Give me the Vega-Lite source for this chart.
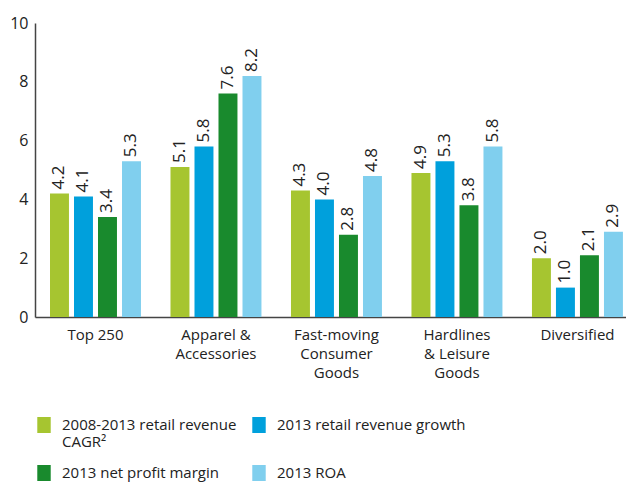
{
  "$schema": "https://vega.github.io/schema/vega-lite/v6.json",
  "autosize": {"type": "none"},
  "padding": {"left": 35, "top": 23, "right": 0, "bottom": 167},
  "width": 591,
  "height": 294,
  "background": "white",
  "config": {
    "font": "Open Sans",
    "view": {"stroke": null}
  },
  "data": {
    "values": [
      {"cat": "Top 250", "s": "2008-2013 retail revenue CAGR²", "v": 4.2},
      {"cat": "Top 250", "s": "2013 retail revenue growth", "v": 4.1},
      {"cat": "Top 250", "s": "2013 net profit margin", "v": 3.4},
      {"cat": "Top 250", "s": "2013 ROA", "v": 5.3},
      {"cat": "Apparel & Accessories", "s": "2008-2013 retail revenue CAGR²", "v": 5.1},
      {"cat": "Apparel & Accessories", "s": "2013 retail revenue growth", "v": 5.8},
      {"cat": "Apparel & Accessories", "s": "2013 net profit margin", "v": 7.6},
      {"cat": "Apparel & Accessories", "s": "2013 ROA", "v": 8.2},
      {"cat": "Fast-moving Consumer Goods", "s": "2008-2013 retail revenue CAGR²", "v": 4.3},
      {"cat": "Fast-moving Consumer Goods", "s": "2013 retail revenue growth", "v": 4.0},
      {"cat": "Fast-moving Consumer Goods", "s": "2013 net profit margin", "v": 2.8},
      {"cat": "Fast-moving Consumer Goods", "s": "2013 ROA", "v": 4.8},
      {"cat": "Hardlines & Leisure Goods", "s": "2008-2013 retail revenue CAGR²", "v": 4.9},
      {"cat": "Hardlines & Leisure Goods", "s": "2013 retail revenue growth", "v": 5.3},
      {"cat": "Hardlines & Leisure Goods", "s": "2013 net profit margin", "v": 3.8},
      {"cat": "Hardlines & Leisure Goods", "s": "2013 ROA", "v": 5.8},
      {"cat": "Diversified", "s": "2008-2013 retail revenue CAGR²", "v": 2.0},
      {"cat": "Diversified", "s": "2013 retail revenue growth", "v": 1.0},
      {"cat": "Diversified", "s": "2013 net profit margin", "v": 2.1},
      {"cat": "Diversified", "s": "2013 ROA", "v": 2.9}
    ]
  },
  "encoding": {
    "x": {
      "field": "cat", "type": "nominal", "sort": null, "title": null,
      "scale": {"paddingInner": 0.245, "paddingOuter": 0.075, "align": 0.83},
      "axis": {
        "domainColor": "#444444", "domainWidth": 1.5, "ticks": false,
        "labelAngle": 0, "labelFontSize": 15, "labelColor": "#222222",
        "labelPadding": 10, "labelBaseline": "top", "labelLineHeight": 19,
        "labelExpr": "datum.label == 'Apparel & Accessories' ? ['Apparel &', 'Accessories'] : datum.label == 'Fast-moving Consumer Goods' ? ['Fast-moving', 'Consumer', 'Goods'] : datum.label == 'Hardlines & Leisure Goods' ? ['Hardlines', '& Leisure', 'Goods'] : datum.label"
      }
    },
    "xOffset": {
      "field": "s", "type": "nominal", "sort": null,
      "scale": {"paddingInner": 0.21, "paddingOuter": 0}
    },
    "y": {
      "field": "v", "type": "quantitative", "title": null,
      "scale": {"domain": [0, 10]},
      "axis": {
        "values": [0, 2, 4, 6, 8, 10], "grid": false, "ticks": false,
        "domainColor": "#444444", "domainWidth": 1.5,
        "labelFontSize": 16, "labelColor": "#222222", "labelPadding": 7
      }
    }
  },
  "layer": [
    {
      "mark": {"type": "bar"},
      "encoding": {
        "color": {
          "field": "s", "type": "nominal", "sort": null, "title": null,
          "scale": {
            "domain": ["2008-2013 retail revenue CAGR²", "2013 retail revenue growth", "2013 net profit margin", "2013 ROA"],
            "range": ["#A6C530", "#00A0DC", "#198A2D", "#80CFEE"]
          },
          "legend": {
            "orient": "none", "legendX": 1, "legendY": 394, "direction": "horizontal",
            "columns": 2, "columnPadding": 14, "rowPadding": 15,
            "symbolType": "M-0.84,-1H0.84V1H-0.84Z", "symbolSize": 256, "symbolStrokeWidth": 0,
            "labelFontSize": 15, "labelColor": "#222222", "labelOffset": 10,
            "labelLineHeight": 17, "labelLimit": 400,
            "labelExpr": "datum.label == '2008-2013 retail revenue CAGR²' ? ['2008-2013 retail revenue', 'CAGR²'] : [datum.label, '']"
          }
        }
      }
    },
    {
      "mark": {"type": "text", "angle": 270, "align": "left", "baseline": "middle", "dx": 4, "fontSize": 17, "color": "#222222"},
      "encoding": {
        "text": {"field": "v", "type": "quantitative", "format": ".1f"}
      }
    }
  ]
}
